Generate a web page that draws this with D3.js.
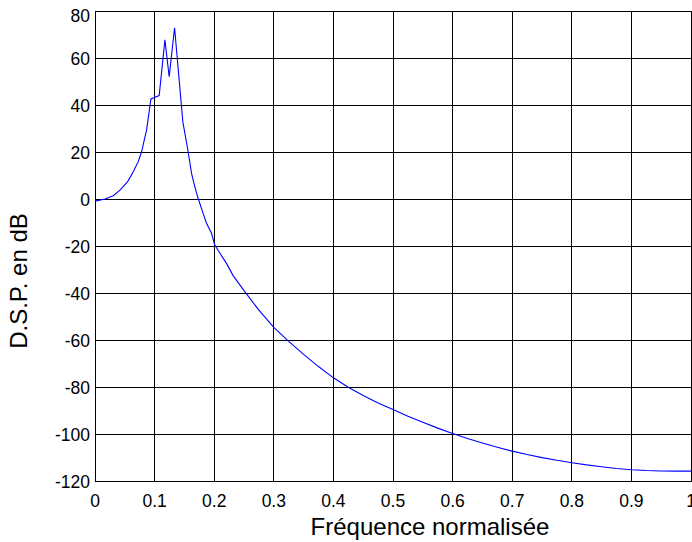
<!DOCTYPE html>
<html>
<head>
<meta charset="utf-8">
<script src="https://cdn.jsdelivr.net/npm/d3@7/dist/d3.min.js"></script>
<style>
  html, body { margin: 0; padding: 0; background: #fff; }
  svg { display: block; }
  text { font-family: "Liberation Sans", Arial, Helvetica, sans-serif; fill: #000; }
</style>
</head>
<body>
<svg id="chart" width="692" height="542"></svg>
<script>
// Normalised frequency (0..1) of each vertex of the spectrum curve
const freq = [
  0, 0.0168, 0.0307, 0.0419, 0.0548, 0.0642, 0.0725, 0.0782, 0.0826, 0.0866,
  0.0938, 0.1077, 0.1173, 0.1245, 0.1335, 0.1474, 0.1563, 0.162, 0.1675, 0.173,
  0.1814, 0.1871, 0.1955, 0.201, 0.2094, 0.2206, 0.2317, 0.25, 0.275, 0.3,
  0.325, 0.35, 0.375, 0.4, 0.425, 0.45, 0.475, 0.5, 0.525, 0.55,
  0.575, 0.6, 0.625, 0.65, 0.675, 0.7, 0.725, 0.75, 0.775, 0.8,
  0.825, 0.85, 0.875, 0.9, 0.925, 0.95, 0.975, 1.0
];
// Power spectral density in dB at each frequency
const dsp = [
  -0.9, 0.0, 1.4, 3.8, 7.4, 11.6, 15.9, 20.1, 25.1, 29.4,
  42.6, 44.0, 67.7, 52.0, 72.9, 32.8, 20.1, 10.9, 5.2, 0.3,
  -6.1, -10.3, -14.6, -19.6, -23.0, -27.4, -32.6, -39.0, -47.3, -54.6,
  -60.6, -66.1, -71.3, -76.1, -80.1, -83.6, -86.8, -89.6, -92.4, -95.0,
  -97.5, -99.8, -101.9, -103.85, -105.65, -107.3, -108.75, -110.05, -111.2, -112.2,
  -113.15, -113.95, -114.65, -115.2, -115.55, -115.75, -115.8, -115.8
];
const xTicks = [0, 0.1, 0.2, 0.3, 0.4, 0.5, 0.6, 0.7, 0.8, 0.9, 1];
const xTickLabels = ["0", "0.1", "0.2", "0.3", "0.4", "0.5", "0.6", "0.7", "0.8", "0.9", "1"];
const yTicks = [-120, -100, -80, -60, -40, -20, 0, 20, 40, 60, 80];
const yTickLabels = ["-120", "-100", "-80", "-60", "-40", "-20", "0", "20", "40", "60", "80"];
const xTitle = "Fréquence normalisée";
const yTitle = "D.S.P. en dB";

const svg = d3.select("#chart");
const plot = { left: 95, right: 691, top: 11, bottom: 481 };

const x = d3.scaleLinear().domain([0, 1]).range([plot.left, plot.right]);
const y = d3.scaleLinear().domain([-120, 80]).range([plot.bottom, plot.top]);

// Grid (mesh) lines at every tick
const grid = svg.append("g").attr("shape-rendering", "crispEdges")
  .attr("stroke", "#000").attr("stroke-width", 1);
grid.selectAll("line.vx").data(xTicks).join("line")
  .attr("x1", d => x(d)).attr("x2", d => x(d))
  .attr("y1", plot.top).attr("y2", plot.bottom);
grid.selectAll("line.hy").data(yTicks).join("line")
  .attr("x1", plot.left).attr("x2", plot.right)
  .attr("y1", d => y(d)).attr("y2", d => y(d));

// Frame
svg.append("rect")
  .attr("x", plot.left).attr("y", plot.top)
  .attr("width", plot.right - plot.left).attr("height", plot.bottom - plot.top)
  .attr("fill", "none").attr("stroke", "#000").attr("stroke-width", 1)
  .attr("shape-rendering", "crispEdges");

// Spectrum curve
svg.append("clipPath").attr("id", "plotClip").append("rect")
  .attr("x", plot.left).attr("y", plot.top)
  .attr("width", plot.right - plot.left).attr("height", plot.bottom - plot.top);

const line = d3.line().x((d, i) => x(freq[i])).y(d => y(d));
svg.append("path")
  .datum(dsp)
  .attr("clip-path", "url(#plotClip)")
  .attr("fill", "none")
  .attr("stroke", "#0000ff")
  .attr("stroke-width", 1.1)
  .attr("d", line);

// Tick labels
const tickFont = 17.5;
svg.append("g").selectAll("text").data(xTicks).join("text")
  .attr("x", d => x(d))
  .attr("y", plot.bottom + 26)
  .attr("text-anchor", "middle")
  .attr("font-size", tickFont)
  .text((d, i) => xTickLabels[i]);

svg.append("g").selectAll("text").data(yTicks).join("text")
  .attr("x", plot.left - 5)
  // keep the top label inside the frame of the page
  .attr("y", d => Math.max(y(d), 15) + 1)
  .attr("dy", "0.35em")
  .attr("text-anchor", "end")
  .attr("font-size", tickFont)
  .text((d, i) => yTickLabels[i]);

// Axis titles
svg.append("text")
  .attr("x", 430).attr("y", 535)
  .attr("text-anchor", "middle")
  .attr("font-size", 24)
  .text(xTitle);

svg.append("text")
  .attr("transform", "translate(27,281) rotate(-90)")
  .attr("text-anchor", "middle")
  .attr("font-size", 24)
  .text(yTitle);
</script>
</body>
</html>
